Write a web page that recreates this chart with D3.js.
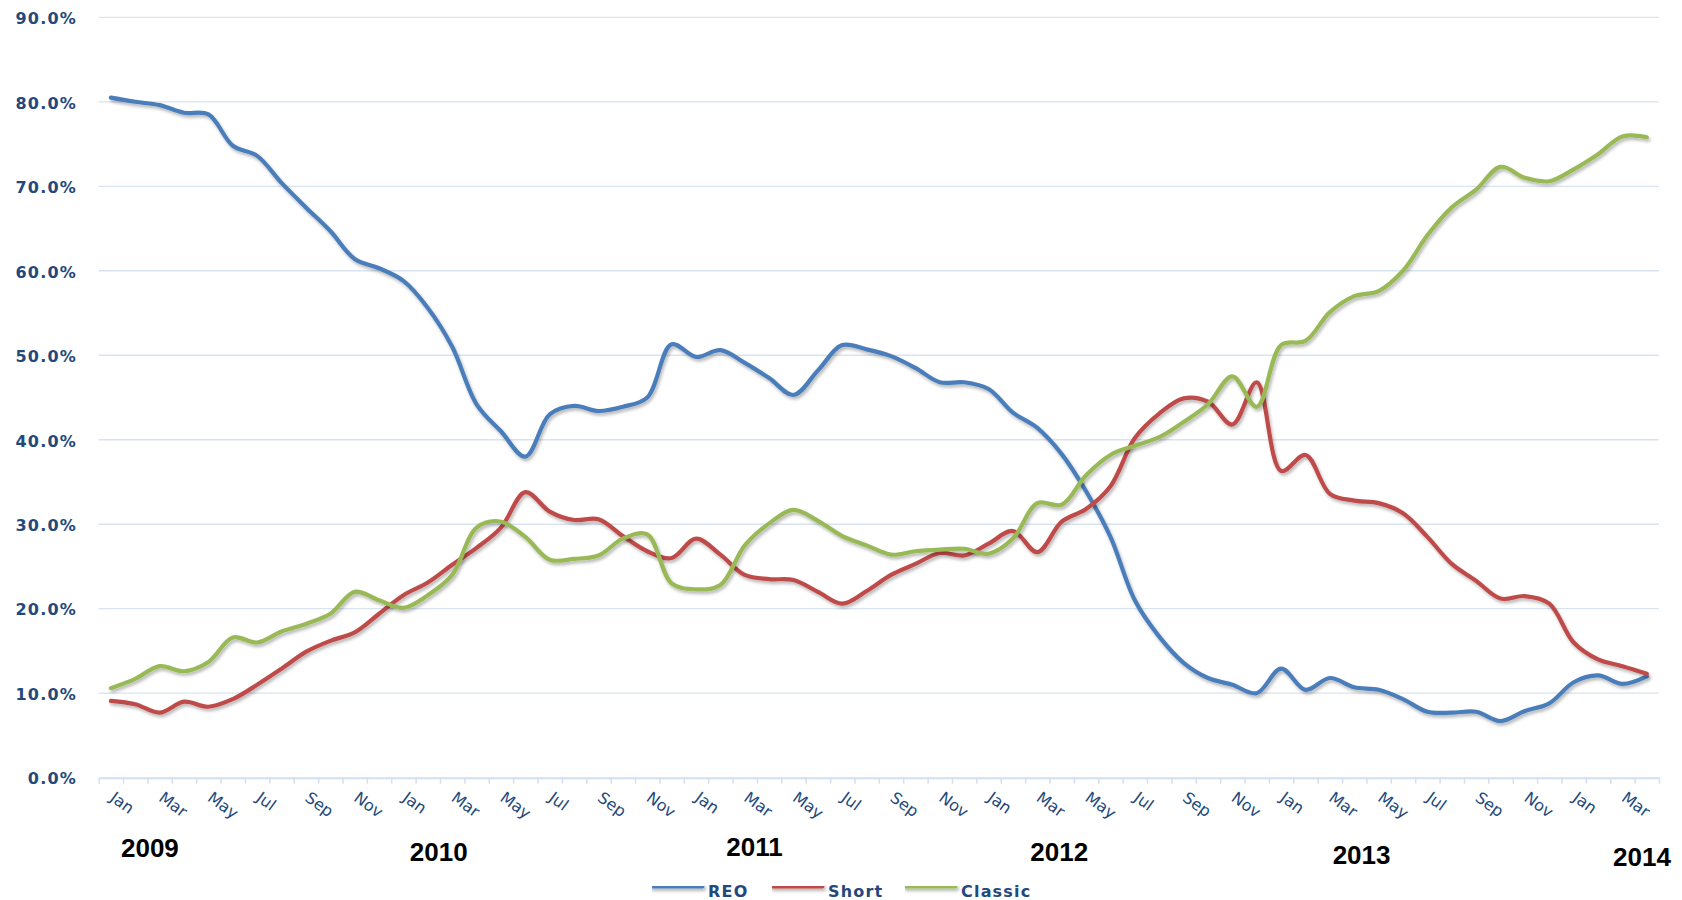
<!DOCTYPE html>
<html>
<head>
<meta charset="utf-8">
<script src="https://cdn.jsdelivr.net/npm/d3@7"></script>
<style>
  body { margin: 0; background: #fff; }
  svg { display: block; }
</style>
</head>
<body>
<div id="chart"></div>
<script>
// month categories, Jan 2009 .. Apr 2014
var monthNames = ["Jan", "Feb", "Mar", "Apr", "May", "Jun", "Jul", "Aug", "Sep", "Oct", "Nov", "Dec"];
var months = d3.range(64).map(function(i) {
    return monthNames[i % 12] + " " + (2009 + Math.floor(i / 12));
});

var yearLabels = ["2009", "2010", "2011", "2012", "2013", "2014"];
var yearAt = [1.6, 13.45, 26.4, 38.9, 51.3, 62.8];   // month index under each year label

var yTicks = [0, 10, 20, 30, 40, 50, 60, 70, 80, 90];

var reo = [80.5, 80.0, 79.6, 78.7, 78.5, 74.8, 73.6, 70.4, 67.5, 64.7, 61.4, 60.3,
    58.8, 55.6, 51.0, 44.2, 41.0, 38.0, 43.0, 44.0, 43.4, 43.9, 45.0, 51.3,
    49.8, 50.6, 49.1, 47.3, 45.3, 48.2, 51.2, 50.7, 49.9, 48.5, 46.8, 46.8,
    46.0, 43.2, 41.4, 38.3, 33.9, 28.5, 21.0, 16.7, 13.6, 11.8, 11.0, 10.0,
    12.9, 10.4, 11.8, 10.7, 10.4, 9.3, 7.8, 7.7, 7.8, 6.7, 7.9, 8.8,
    11.3, 12.1, 11.1, 12.0];

var shortSale = [9.1, 8.7, 7.7, 9.0, 8.4, 9.3, 11.0, 12.9, 14.9, 16.2, 17.2, 19.4,
    21.6, 23.1, 25.2, 27.2, 29.6, 33.8, 31.5, 30.5, 30.6, 28.6, 26.8, 26.0,
    28.3, 26.4, 24.0, 23.5, 23.4, 22.0, 20.6, 22.1, 24.0, 25.3, 26.6, 26.3,
    27.7, 29.2, 26.7, 30.3, 31.8, 34.5, 40.2, 43.1, 44.9, 44.5, 41.8, 46.8,
    36.3, 38.2, 33.6, 32.8, 32.5, 31.3, 28.5, 25.3, 23.3, 21.2, 21.5, 20.6,
    16.0, 14.0, 13.2, 12.3];

var classic = [10.6, 11.7, 13.2, 12.6, 13.7, 16.6, 16.0, 17.3, 18.2, 19.4, 22.0, 21.0,
    20.1, 21.6, 24.0, 29.6, 30.3, 28.5, 25.8, 25.9, 26.3, 28.3, 28.8, 23.0,
    22.3, 22.8, 27.5, 30.1, 31.7, 30.4, 28.6, 27.5, 26.4, 26.8, 27.0, 27.1,
    26.5, 28.3, 32.5, 32.3, 35.8, 38.2, 39.3, 40.3, 42.1, 44.2, 47.5, 43.9,
    51.2, 51.7, 55.1, 57.0, 57.6, 60.0, 64.2, 67.5, 69.6, 72.3, 71.0, 70.6,
    72.0, 73.8, 75.9, 75.8];

var seriesNames = ["REO", "Short", "Classic"];
var seriesColors = ["#4a7ebb", "#be4b48", "#98b954"];
var seriesValues = [reo, shortSale, classic];

var svgWidth = 1682;
var svgHeight = 900;
var plot = { left: 98.7, right: 1659, top: 17.3, bottom: 777.7 };

var svg = d3.select("#chart")
    .append("svg")
    .attr("width", svgWidth)
    .attr("height", svgHeight);

svg.append("rect")
    .attr("width", svgWidth)
    .attr("height", svgHeight)
    .attr("fill", "#fff");

var defs = svg.append("defs");
defs.append("filter")
    .attr("id", "shadow")
    .attr("filterUnits", "userSpaceOnUse")
    .attr("x", 0).attr("y", 0)
    .attr("width", svgWidth).attr("height", svgHeight)
    .append("feDropShadow")
    .attr("dx", 1.5)
    .attr("dy", 2.5)
    .attr("stdDeviation", 1.6)
    .attr("flood-color", "#000")
    .attr("flood-opacity", 0.28);

var xScale = d3.scalePoint()
    .domain(months)
    .range([plot.left, plot.right])
    .padding(0.5);

var step = xScale.step();

var yScale = d3.scaleLinear()
    .domain([0, 90])
    .range([plot.bottom, plot.top]);

// horizontal grid
svg.append("g")
    .selectAll("line")
    .data(yTicks.slice(1))
    .enter()
    .append("line")
    .attr("x1", plot.left)
    .attr("x2", plot.right)
    .attr("y1", d => yScale(d))
    .attr("y2", d => yScale(d))
    .attr("stroke", "#d9e4f2")
    .attr("stroke-width", 1.3);

// y labels
svg.append("g")
    .selectAll("text")
    .data(yTicks)
    .enter()
    .append("text")
    .attr("x", 77)
    .attr("y", d => yScale(d) + 1)
    .attr("dy", "0.36em")
    .attr("text-anchor", "end")
    .attr("font-family", "DejaVu Sans")
    .attr("font-weight", "bold")
    .attr("font-size", "16px")
    .attr("letter-spacing", "1.2px")
    .attr("fill", "#23497c")
    .text(d => d.toFixed(1) + "%");

// category axis with ticks on month boundaries
var boundary = d3.scaleLinear()
    .domain([0, months.length])
    .range([plot.left, plot.right]);

var bottomAxis = d3.axisBottom(boundary)
    .tickValues(d3.range(months.length + 1))
    .tickFormat("")
    .tickSize(6)
    .tickSizeOuter(0);

var axisG = svg.append("g")
    .attr("transform", `translate(0, ${plot.bottom})`)
    .call(bottomAxis);
axisG.select(".domain").attr("stroke", "#d3e0f0").attr("stroke-width", 2);
axisG.selectAll(".tick line").attr("stroke", "#d3e0f0").attr("stroke-width", 1.5);

// month labels every other month
svg.append("g")
    .selectAll("text")
    .data(months.filter((m, i) => i % 2 === 0 && i < 63))
    .enter()
    .append("text")
    .attr("transform", d => `translate(${xScale(d) - 2}, 800) rotate(36)`)
    .attr("text-anchor", "start")
    .attr("font-family", "DejaVu Sans")
    .attr("font-size", "16px")
    .attr("fill", "#23497c")
    .text(d => d.split(" ")[0]);

// year labels
var yearBase = [857, 861, 856, 861, 864, 866];
svg.append("g")
    .selectAll("text")
    .data(yearLabels)
    .enter()
    .append("text")
    .attr("x", (d, i) => plot.left + (yearAt[i] + 0.5) * step)
    .attr("y", (d, i) => yearBase[i])
    .attr("text-anchor", "middle")
    .attr("font-family", "Liberation Sans")
    .attr("font-weight", "bold")
    .attr("font-size", "26px")
    .attr("fill", "#000")
    .text(d => d);

// lines
var line = d3.line()
    .x((d, i) => xScale(months[i]))
    .y(d => yScale(d))
    .curve(d3.curveCatmullRom.alpha(0.5));

svg.append("g")
    .selectAll("path")
    .data(seriesValues)
    .enter()
    .append("path")
    .attr("d", d => line(d))
    .attr("fill", "none")
    .attr("stroke", (d, i) => seriesColors[i])
    .attr("stroke-width", 4.2)
    .attr("stroke-linecap", "round")
    .attr("stroke-linejoin", "round")
    .attr("filter", "url(#shadow)");

// legend
var legendX = [652, 772, 905];
var legend = svg.append("g")
    .selectAll("g")
    .data(seriesNames)
    .enter()
    .append("g")
    .attr("transform", (d, i) => `translate(${legendX[i]}, 886)`);

legend.append("line")
    .attr("x1", 0)
    .attr("x2", 50)
    .attr("stroke", (d, i) => seriesColors[i])
    .attr("stroke-width", 5)
    .attr("stroke-linecap", "round")
    .attr("filter", "url(#shadow)");

legend.append("text")
    .attr("x", 56)
    .attr("y", 11)
    .attr("font-family", "DejaVu Sans")
    .attr("font-weight", "bold")
    .attr("font-size", "16px")
    .attr("letter-spacing", "1.2px")
    .attr("fill", "#23497c")
    .text(d => d);
</script>
</body>
</html>
